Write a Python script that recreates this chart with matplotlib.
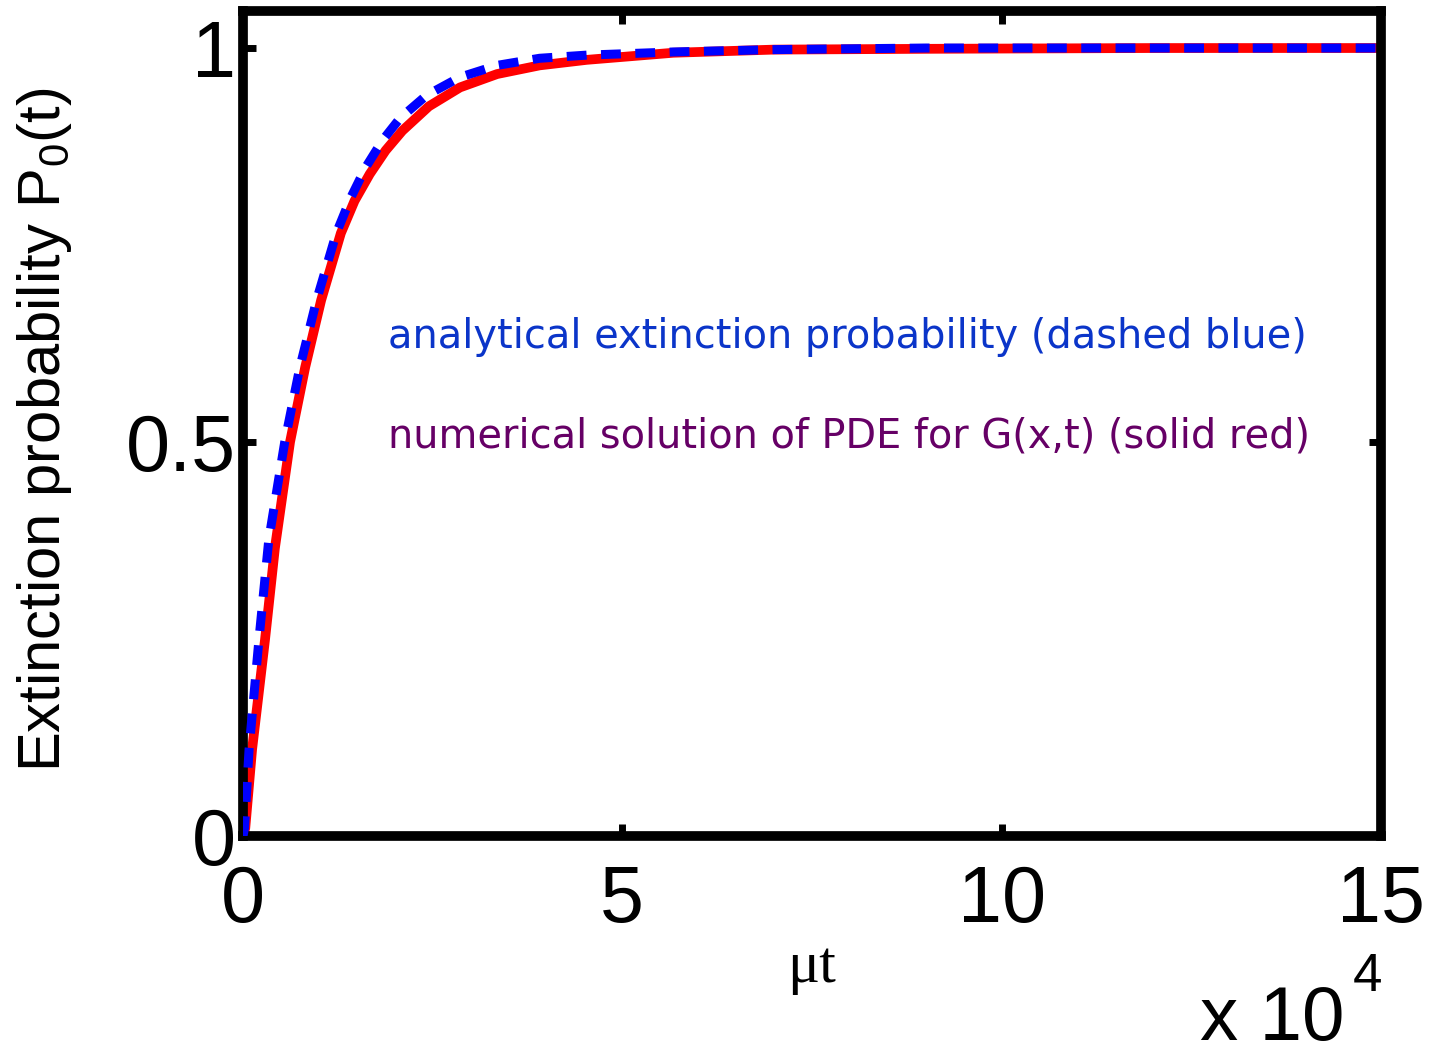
import matplotlib
matplotlib.use("Agg")
import matplotlib.pyplot as plt

# data (mu*t in units of 1e4)
red_x = [0, 0.03, 0.12, 0.29, 0.42, 0.62, 0.82, 1.03, 1.29, 1.47, 1.67, 1.88, 2.10, 2.45, 2.86, 3.35, 3.91, 4.53, 5.67, 7.0, 9.0, 12.0, 15.0]
red_y = [0, 0.01, 0.11, 0.249, 0.365, 0.50, 0.595, 0.68, 0.765, 0.806, 0.84, 0.870, 0.895, 0.926, 0.950, 0.967, 0.978, 0.985, 0.994, 0.998, 0.999, 1.0, 1.0]
blue_x = [0, 0.02, 0.08, 0.21, 0.34, 0.55, 0.75, 0.97, 1.23, 1.42, 1.62, 1.84, 2.07, 2.42, 2.86, 3.35, 3.91, 4.53, 5.67, 7.0, 9.0, 12.0, 15.0]
blue_y = [0, 0.01, 0.11, 0.249, 0.376, 0.50, 0.595, 0.68, 0.765, 0.810, 0.849, 0.883, 0.911, 0.940, 0.963, 0.978, 0.987, 0.991, 0.995, 0.998, 1.0, 1.0, 1.0]
xticks = [0, 5, 10, 15]
xticklabels = ["0", "5", "10", "15"]
yticks = [0, 0.5, 1]
yticklabels = ["0", "0.5", "1"]
label_blue = "analytical extinction probability (dashed blue)"
label_red = "numerical solution of PDE for G(x,t) (solid red)"

W, H = 1431, 1047
fig = plt.figure(figsize=(W / 100, H / 100), dpi=100)
ax = fig.add_axes([243 / W, 1 - 836 / H, (1381 - 243) / W, (836 - 11) / H])

ax.plot(red_x, red_y, color=(1, 0, 0), lw=7, solid_joinstyle="round", zorder=2)
ax.plot(blue_x, blue_y, color=(0, 0, 1), lw=6.5, dashes=(2.2, 1.6), zorder=3)

ax.set_xlim(0, 15)
ax.set_ylim(0, 1.047)
ax.set_xticks(xticks)
ax.set_xticklabels(xticklabels)
ax.set_yticks(yticks)
ax.set_yticklabels(yticklabels)
for s in ax.spines.values():
    s.set_linewidth(7)
    s.set_color("black")
ax.tick_params(direction="in", length=9, width=5, top=True, right=True,
               labelsize=57)
ax.tick_params(axis="x", pad=20)
ax.tick_params(axis="y", pad=5)
for lab in ax.get_xticklabels() + ax.get_yticklabels():
    lab.set_fontfamily("Liberation Sans")

ax.text(1.91, 0.633, label_blue, color="#0b35c9", fontsize=28.7,
        family="DejaVu Sans", va="center", ha="left")
ax.text(1.91, 0.507, label_red, color="#660066", fontsize=28.7,
        family="DejaVu Sans", va="center", ha="left")

fig.text(45 / W, 1 - 430 / H, r"Extinction probability P$_\mathregular{0}$(t)",
         rotation=90, fontsize=43, family="Liberation Sans", ha="center", va="center")
fig.text(812 / W, 1 - 968 / H, "\u03bct", fontsize=43, family="Liberation Serif",
         ha="center", va="center")
fig.text(1200 / W, 1 - 1040 / H, "x 10", fontsize=55, family="Liberation Sans",
         ha="left", va="baseline")
fig.text(1353 / W, 1 - 991 / H, "4", fontsize=38, family="Liberation Sans",
         ha="left", va="baseline")

fig.savefig("out.png", dpi=100)
